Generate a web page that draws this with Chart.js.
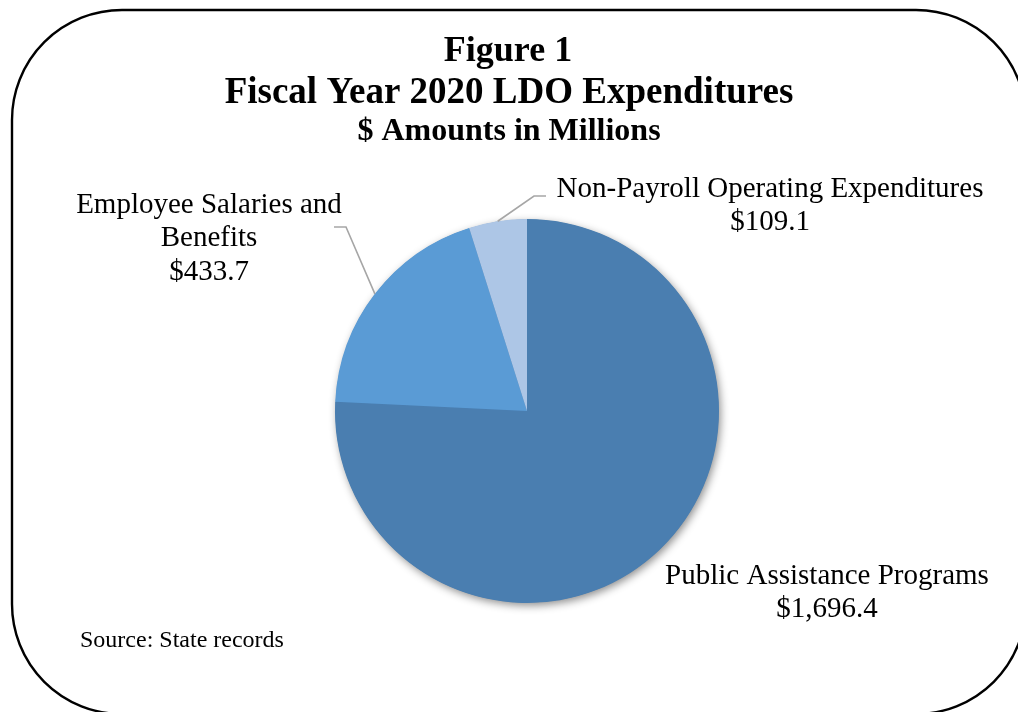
<!DOCTYPE html>
<html>
<head>
<meta charset="utf-8">
<script src="https://cdn.jsdelivr.net/npm/chart.js@4.4.1/dist/chart.umd.min.js"></script>
<style>
  html, body { margin: 0; padding: 0; background: #ffffff; }
  #wrap { position: relative; width: 1018px; height: 712px; }
</style>
</head>
<body>
<div id="wrap"><canvas id="c"></canvas></div>
<script>
// ---- data ----
const categories = ['Public Assistance Programs', 'Employee Salaries and Benefits', 'Non-Payroll Operating Expenditures'];
const amounts = [1696.4, 433.7, 109.1];
const labelLines = [['Public Assistance Programs'], ['Employee Salaries and', 'Benefits'], ['Non-Payroll Operating Expenditures']];
const sliceColors = ['#4a7eb0', '#5a9bd5', '#adc6e6'];
const titleLines = ['Figure 1', 'Fiscal Year 2020 LDO Expenditures'];
const subtitleText = '$ Amounts in Millions';
const sourceText = 'Source: State records';

const SERIF = '"Liberation Serif", "Times New Roman", Times, serif';

function fmt(v) {
  return '$' + v.toLocaleString('en-US', { minimumFractionDigits: 1, maximumFractionDigits: 1 });
}

// label placement (layout only)
const labelPos = [
  { x: 827, y: 584, leader: null },
  { x: 209, y: 213, leader: { elbowX: 346, elbowY: 227, endX: 334 } },
  { x: 770, y: 197, leader: { elbowX: 534, elbowY: 196, endX: 546 } }
];

const decor = {
  id: 'decor',
  beforeDraw(chart) {
    const ctx = chart.ctx;
    ctx.save();
    ctx.fillStyle = '#ffffff';
    ctx.fillRect(0, 0, chart.width, chart.height);
    // rounded border
    ctx.beginPath();
    ctx.roundRect(12, 10, 1014, 704, 110);
    ctx.lineWidth = 2.4;
    ctx.strokeStyle = '#000000';
    ctx.stroke();
    ctx.restore();
  },
  beforeDatasetsDraw(chart) {
    const meta = chart.getDatasetMeta(0);
    const a = meta.data[0];
    if (!a) return;
    const ctx = chart.ctx;
    ctx.save();
    ctx.shadowColor = 'rgba(0,0,0,0.45)';
    ctx.shadowBlur = 9;
    ctx.shadowOffsetX = 2;
    ctx.shadowOffsetY = 3;
    ctx.beginPath();
    ctx.arc(a.x, a.y, a.outerRadius - 0.5, 0, Math.PI * 2);
    ctx.fillStyle = sliceColors[0];
    ctx.fill();
    ctx.restore();
  },
  afterDatasetsDraw(chart) {
    const ctx = chart.ctx;
    const meta = chart.getDatasetMeta(0);
    ctx.save();
    // titles
    ctx.fillStyle = '#000000';
    ctx.textAlign = 'center';
    ctx.textBaseline = 'alphabetic';
    ctx.font = 'bold 36px ' + SERIF;
    ctx.fillText(titleLines[0], 508, 60.5);
    ctx.font = 'bold 37px ' + SERIF;
    ctx.fillText(titleLines[1], 509, 103);
    ctx.font = 'bold 32px ' + SERIF;
    ctx.fillText(subtitleText, 509, 140);

    // slice labels + leaders
    ctx.font = '29px ' + SERIF;
    const lh = 33.4;
    meta.data.forEach((arc, i) => {
      const p = labelPos[i];
      const lines = labelLines[i].concat([fmt(amounts[i])]);
      lines.forEach((t, k) => ctx.fillText(t, p.x, p.y + k * lh));
      if (p.leader) {
        const mid = (arc.startAngle + arc.endAngle) / 2;
        const sx = arc.x + Math.cos(mid) * arc.outerRadius;
        const sy = arc.y + Math.sin(mid) * arc.outerRadius;
        ctx.beginPath();
        ctx.moveTo(sx, sy);
        ctx.lineTo(p.leader.elbowX, p.leader.elbowY);
        ctx.lineTo(p.leader.endX, p.leader.elbowY);
        ctx.strokeStyle = '#a6a6a6';
        ctx.lineWidth = 1.6;
        ctx.stroke();
      }
    });

    // source
    ctx.textAlign = 'left';
    ctx.font = '24px ' + SERIF;
    ctx.fillText(sourceText, 80, 647);
    ctx.restore();
  }
};

new Chart(document.getElementById('c'), {
  type: 'pie',
  data: {
    labels: categories,
    datasets: [{
      data: amounts,
      backgroundColor: sliceColors,
      borderWidth: 0,
      hoverOffset: 0
    }]
  },
  options: {
    responsive: true,
    maintainAspectRatio: false,
    animation: false,
    devicePixelRatio: 1,
    layout: { padding: { top: 219, bottom: 109, left: 335, right: 299 } },
    plugins: {
      legend: { display: false },
      title: { display: false },
      tooltip: { enabled: false }
    },
    events: []
  },
  plugins: [decor]
});
</script>
</body>
</html>
